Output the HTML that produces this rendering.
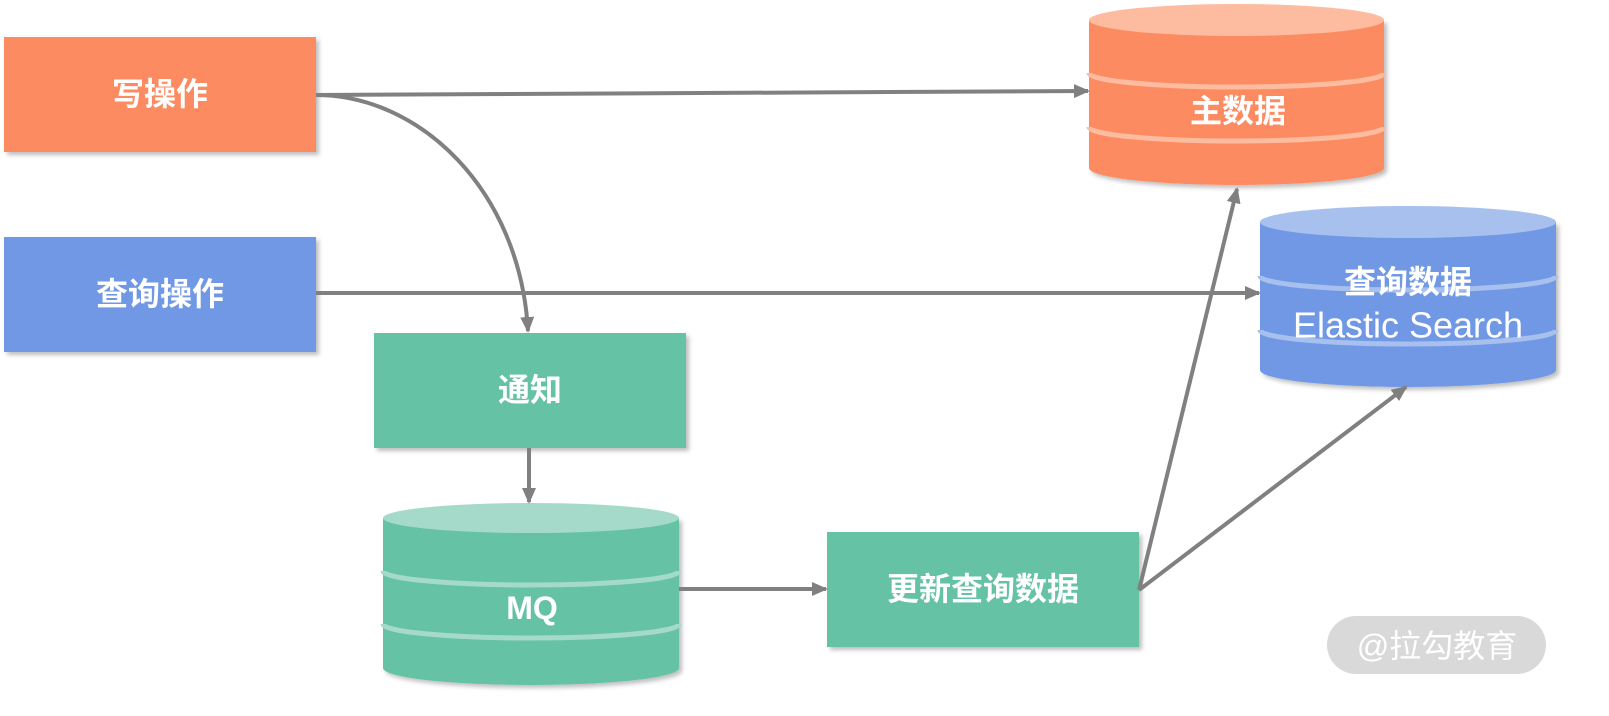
<!DOCTYPE html>
<html><head><meta charset="utf-8"><style>html,body{margin:0;padding:0;background:#fff;overflow:hidden}</style></head><body>
<svg width="1609" height="716" viewBox="0 0 1609 716" xmlns="http://www.w3.org/2000/svg" font-family="Liberation Sans, Noto Sans CJK SC, sans-serif" style="display:block">
<defs>
<marker id="a" markerWidth="16" markerHeight="14" refX="14" refY="7" orient="auto" markerUnits="userSpaceOnUse" viewBox="0 0 16 14"><path d="M0,0 L16,7 L0,14 z" fill="#808080"/></marker>
<filter id="s" x="-5%" y="-5%" width="115%" height="120%"><feDropShadow dx="3" dy="3" stdDeviation="2" flood-color="#000" flood-opacity="0.25"/></filter>
</defs>
<g filter="url(#s)">
<rect x="4" y="37" width="312" height="115" fill="#FD8B62"/>
<rect x="4" y="237" width="312" height="115" fill="#7098E4"/>
<rect x="374" y="333" width="312" height="115" fill="#65C2A5"/>
<rect x="827" y="532" width="312" height="115" fill="#65C2A5"/>
<path d="M1089,20 V168 A147.5,17 0 0 0 1384,168 V20 Z" fill="#FD8B62"/>
<path d="M1260,222 V370 A148,17 0 0 0 1556,370 V222 Z" fill="#7098E4"/>
<path d="M383,518 V668 A148,17 0 0 0 679,668 V518 Z" fill="#65C2A5"/>
</g>
<ellipse cx="1236.5" cy="20" rx="147.5" ry="16" fill="#FDBBA0"/>
<path d="M1089,73 A147.5,14 0 0 0 1384,73" fill="none" stroke="#FDBBA0" stroke-width="5"/>
<path d="M1089,127 A147.5,14 0 0 0 1384,127" fill="none" stroke="#FDBBA0" stroke-width="5"/>
<ellipse cx="1408" cy="222" rx="148" ry="16" fill="#A8C0EE"/>
<path d="M1260,276 A148,14 0 0 0 1556,276" fill="none" stroke="#A8C0EE" stroke-width="5"/>
<path d="M1260,330 A148,14 0 0 0 1556,330" fill="none" stroke="#A8C0EE" stroke-width="5"/>
<ellipse cx="531" cy="518" rx="148" ry="15" fill="#A5DACA"/>
<path d="M383,571 A148,14 0 0 0 679,571" fill="none" stroke="#A5DACA" stroke-width="5"/>
<path d="M383,624 A148,14 0 0 0 679,624" fill="none" stroke="#A5DACA" stroke-width="5"/>
<g stroke="#808080" stroke-width="4" fill="none" marker-end="url(#a)">
<line x1="316" y1="95" x2="1088" y2="91"/>
<path d="M316,95 C420,95 520,190 528,331"/>
<line x1="316" y1="293" x2="1259" y2="293"/>
<line x1="529" y1="448" x2="529" y2="502"/>
<line x1="679" y1="589" x2="826" y2="589"/>
<line x1="1139" y1="590" x2="1237" y2="189"/>
<line x1="1139" y1="590" x2="1406" y2="387"/>
</g>
<g fill="#fff" font-size="32" font-weight="bold" text-anchor="middle" dominant-baseline="central">
<text x="160" y="94">写操作</text>
<text x="160" y="294">查询操作</text>
<text x="530" y="390">通知</text>
<text x="983" y="589">更新查询数据</text>
<text x="1238" y="111">主数据</text>
<text x="1408" y="282">查询数据</text>
<text x="1408" y="325" font-weight="normal" font-size="36">Elastic Search</text>
<text x="532" y="608">MQ</text>
</g>
<rect x="1327" y="616" width="219" height="58" rx="29" fill="#d9d9d9"/>
<text x="1437" y="646" fill="#fff" font-size="32" text-anchor="middle" dominant-baseline="central">@拉勾教育</text>
</svg>
</body></html>
